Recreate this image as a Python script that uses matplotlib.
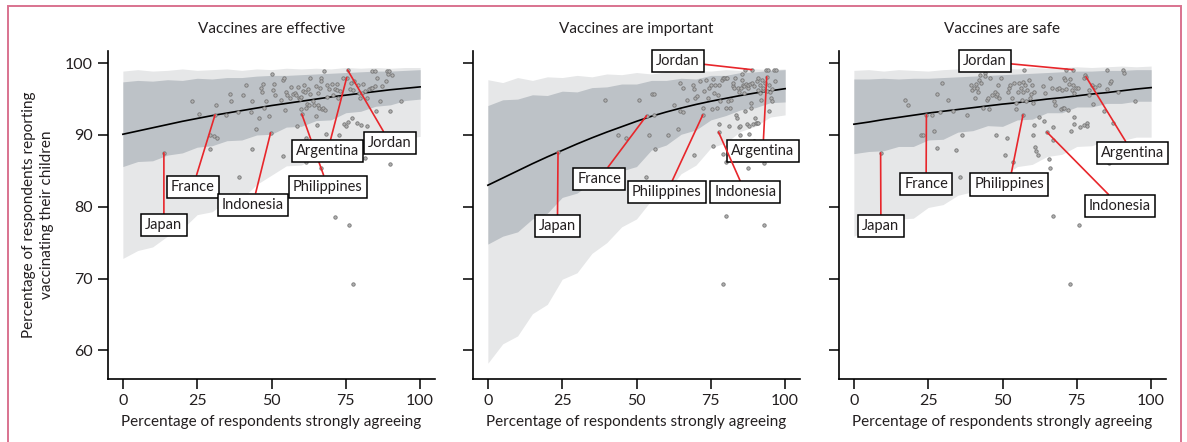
import numpy as np
import matplotlib
matplotlib.use("Agg")
import matplotlib.pyplot as plt
from matplotlib.patches import Rectangle

plt.rcParams["font.family"] = ["Lato", "DejaVu Sans"]

# ---- data -------------------------------------------------------------
TITLES = ["Vaccines are effective", "Vaccines are important", "Vaccines are safe"]

BAND_X = list(range(0, 101, 5))

# panel 1: effective
EFF_LIGHT_HI = [98.9, 99.1, 98.9, 99.0, 99.2, 99.0, 99.1, 99.2, 99.0, 99.2, 99.1,
                99.3, 99.2, 99.3, 99.2, 99.4, 99.3, 99.4, 99.3, 99.4, 99.4]
EFF_DARK_HI = [97.4, 97.6, 97.5, 97.7, 97.6, 97.9, 97.8, 98.0, 98.0, 98.2, 98.3,
               98.3, 98.4, 98.5, 98.6, 98.7, 98.8, 98.9, 98.9, 99.0, 99.1]
EFF_DARK_LO = [85.6, 86.3, 86.4, 87.2, 87.5, 88.3, 88.5, 89.2, 89.3, 90.0, 90.1,
               91.1, 91.2, 92.0, 92.1, 93.1, 93.3, 94.0, 94.2, 94.8, 95.0]
EFF_LIGHT_LO = [72.8, 73.9, 74.4, 75.9, 76.9, 78.9, 79.3, 80.8, 81.1, 83.1, 84.4,
                85.7, 85.8, 87.0, 87.1, 87.9, 88.0, 88.8, 88.9, 89.5, 89.8]
EFF_CURVE = [90.1, 90.55, 91.0, 91.45, 91.9, 92.3, 92.7, 93.05, 93.4, 93.75, 94.1,
             94.4, 94.7, 95.0, 95.3, 95.55, 95.8, 96.05, 96.3, 96.5, 96.7]
EFF_PTS = [
    (23.3, 94.8), (25.6, 92.9), (31.4, 94.2), (31.0, 92.8), (34.8, 92.8), (36.0, 95.65),
    (36.25, 94.8), (38.8, 93.2), (40.5, 95.6), (41.3, 96.9), (43.1, 93.2), (43.3, 94.7),
    (44.7, 90.8), (45.8, 92.4), (46.35, 96.5), (46.7, 96.0), (47.0, 97.1), (47.6, 93.75),
    (48.1, 94.7), (49.2, 92.7), (50.05, 98.5), (50.4, 96.2), (50.7, 97.1), (51.2, 95.6),
    (53.3, 94.9), (53.8, 97.6), (54.2, 97.9), (54.5, 93.5), (54.8, 96.0), (55.3, 95.5),
    (56.3, 95.1), (56.7, 96.7), (57.35, 95.7), (57.8, 95.9), (58.4, 95.5), (58.6, 91.3),
    (58.9, 96.7), (59.3, 95.2), (59.6, 95.05), (59.8, 93.6), (60.05, 95.3), (60.6, 96.1),
    (60.9, 96.9), (61.3, 96.0), (61.6, 93.8), (62.1, 94.3), (62.3, 96.4), (62.6, 94.2),
    (63.0, 98.0), (63.1, 95.75), (63.9, 94.8), (64.3, 94.2), (64.9, 96.8), (65.0, 92.7),
    (65.2, 91.4), (65.5, 95.8), (65.8, 94.2), (66.1, 93.7), (66.3, 96.5), (66.7, 97.9),
    (66.8, 97.5), (67.0, 93.65), (67.45, 93.75), (67.7, 98.95), (67.9, 93.5), (68.6, 95.3),
    (68.8, 96.9), (69.4, 96.4), (70.5, 97.1), (70.7, 95.5), (71.2, 96.4), (71.95, 97.1),
    (72.2, 96.3), (72.4, 95.1), (73.1, 96.1), (74.2, 97.9), (74.5, 91.5), (75.3, 98.0),
    (75.2, 91.2), (75.6, 99.05), (75.9, 91.75), (76.3, 96.4), (76.9, 97.2), (77.1, 92.3),
    (77.3, 96.3), (77.9, 97.5), (78.7, 91.7), (79.2, 97.0), (79.6, 95.9), (79.8, 95.1),
    (80.2, 91.4), (80.5, 95.9), (80.8, 97.1), (81.3, 96.1), (81.6, 86.8), (82.0, 91.2),
    (82.15, 95.2), (82.7, 96.4), (83.4, 96.6), (83.7, 98.95), (83.95, 96.5), (84.7, 96.8),
    (84.95, 98.95), (85.4, 97.9), (86.5, 94.7), (87.1, 96.8), (88.6, 97.5), (88.9, 98.95),
    (89.1, 98.5), (89.6, 98.95), (89.8, 93.4), (89.8, 85.9), (90.5, 98.3), (93.7, 94.7),
    (60.2, 92.9), (49.7, 90.3), (13.8, 87.5), (29.2, 90.0), (30.7, 89.8), (31.5, 89.6),
    (29.2, 88.1), (43.3, 88.0), (39.2, 84.2), (54.0, 87.1), (61.7, 86.2), (66.7, 85.4),
    (61.7, 89.6), (72.6, 90.0), (68.2, 90.1), (85.0, 93.3), (71.2, 78.6), (76.0, 77.5),
    (77.4, 69.2),
]
EFF_LABELS = {"Japan": (13.8, 87.5), "France": (31.0, 92.8), "Indonesia": (49.7, 90.3),
              "Philippines": (60.2, 92.9), "Argentina": (75.3, 98.0), "Jordan": (75.6, 99.05)}

# panel 2: important
IMP_LIGHT_HI = [97.7, 97.3, 98.0, 97.6, 98.1, 98.0, 98.3, 98.1, 98.5, 98.4, 98.7,
                98.5, 98.8, 98.7, 99.0, 98.9, 99.1, 99.0, 99.2, 99.1, 99.2]
IMP_DARK_HI = [94.1, 94.9, 95.0, 95.6, 95.5, 96.1, 96.0, 96.6, 96.7, 97.1, 97.1,
               97.6, 97.6, 97.9, 97.8, 98.3, 98.3, 98.7, 98.8, 99.0, 99.1]
IMP_DARK_LO = [74.8, 75.9, 76.5, 78.3, 79.1, 81.3, 81.9, 83.4, 83.6, 85.0, 85.6,
               87.9, 88.6, 90.1, 90.7, 92.1, 92.7, 93.5, 93.8, 94.5, 94.6]
IMP_LIGHT_LO = [58.2, 60.9, 62.0, 65.1, 66.4, 69.9, 70.8, 73.5, 75.0, 77.2, 78.3,
                80.9, 82.0, 84.6, 85.8, 88.2, 88.9, 90.5, 91.2, 92.5, 92.8]
IMP_CURVE = [83.0, 84.0, 85.0, 86.0, 86.95, 87.85, 88.75, 89.6, 90.4, 91.15, 91.9,
             92.6, 93.2, 93.75, 94.25, 94.7, 95.1, 95.5, 95.85, 96.15, 96.45]
IMP_PTS = [
    (39.4, 94.9), (43.9, 90.0), (46.35, 89.6), (50.8, 94.9), (53.2, 84.1), (54.3, 90.0),
    (55.1, 95.7), (55.9, 95.7), (56.0, 92.8), (56.2, 88.0), (60.7, 90.0), (62.7, 94.2),
    (63.9, 90.9), (64.65, 93.3), (65.55, 93.2), (64.76, 97.2), (65.8, 96.5), (67.1, 94.9),
    (68.9, 97.0), (69.25, 87.15), (69.5, 96.4), (69.7, 95.2), (70.3, 95.4), (71.4, 97.5),
    (72.5, 93.8), (72.84, 96.1), (73.3, 97.6), (74.1, 95.2), (74.5, 96.6), (75.0, 96.9),
    (75.3, 93.65), (75.9, 97.8), (76.1, 95.8), (76.3, 96.9), (77.0, 93.75), (77.4, 95.6),
    (77.9, 96.9), (78.1, 94.7), (78.7, 97.7), (79.0, 97.9), (79.6, 98.0), (80.0, 93.75),
    (80.1, 98.0), (80.6, 98.0), (80.9, 94.7), (81.5, 93.75), (81.8, 94.9), (82.3, 96.8),
    (82.4, 97.3), (82.9, 96.6), (83.2, 97.9), (83.4, 92.8), (83.7, 92.3), (84.1, 96.5),
    (84.4, 96.0), (84.5, 91.05), (84.85, 91.2), (85.1, 96.5), (85.4, 97.7), (85.4, 98.5),
    (85.75, 97.0), (86.2, 96.8), (86.2, 95.8), (86.5, 93.4), (86.76, 97.1), (87.2, 91.5),
    (87.4, 96.5), (87.65, 97.0), (88.0, 91.3), (88.2, 97.1), (88.44, 94.4), (88.55, 93.75),
    (89.0, 97.2), (89.3, 91.5), (89.6, 96.8), (89.9, 92.35), (90.2, 91.65), (90.5, 91.65),
    (91.0, 91.65), (90.5, 97.5), (90.8, 98.0), (91.0, 96.3), (91.4, 97.0), (91.6, 95.8),
    (91.8, 94.9), (92.1, 97.6), (92.5, 96.3), (92.7, 96.5), (93.3, 97.2), (93.6, 99.1),
    (93.8, 96.1), (94.3, 99.1), (94.7, 97.0), (94.95, 96.0), (95.3, 95.1), (95.6, 96.4),
    (96.1, 99.1), (96.6, 97.5), (97.0, 99.1), (77.6, 91.5), (81.0, 91.3), (84.85, 90.0),
    (87.9, 90.1), (77.6, 90.4), (72.3, 92.8), (53.4, 92.7), (79.0, 87.3), (75.9, 88.4),
    (82.3, 87.2), (87.65, 87.0), (89.6, 89.2), (92.9, 86.1), (86.5, 99.0), (88.8, 99.1),
    (93.8, 98.1), (80.1, 86.2), (87.4, 85.4), (80.1, 78.7), (92.9, 77.5), (79.2, 69.25),
    (95.7, 94.7), (94.7, 93.4), (23.6, 87.6),
]
IMP_LABELS = {"Jordan": (88.8, 99.1), "Argentina": (93.8, 98.1), "France": (53.4, 92.7),
              "Japan": (23.6, 87.6), "Philippines": (72.3, 92.8), "Indonesia": (77.6, 90.4)}

# panel 3: safe
SAFE_LIGHT_HI = [99.0, 99.1, 98.9, 99.1, 99.0, 98.9, 99.1, 99.2, 99.1, 99.3, 99.3,
                 99.2, 99.4, 99.3, 99.4, 99.5, 99.4, 99.5, 99.6, 99.5, 99.6]
SAFE_DARK_HI = [97.8, 97.8, 97.9, 97.8, 97.9, 97.9, 98.0, 98.1, 98.2, 98.3, 98.4,
                98.5, 98.6, 98.7, 98.8, 98.9, 98.9, 99.0, 99.0, 99.1, 99.1]
SAFE_DARK_LO = [87.4, 87.7, 87.8, 88.4, 88.4, 89.3, 89.4, 90.4, 90.6, 91.3, 91.2,
                92.1, 92.2, 93.1, 93.1, 93.9, 93.9, 94.4, 94.4, 94.7, 94.7]
SAFE_LIGHT_LO = [75.9, 76.9, 77.0, 78.3, 78.4, 79.9, 80.3, 81.6, 82.1, 83.9, 84.2,
                 85.6, 85.9, 87.0, 87.3, 88.4, 88.5, 89.2, 89.2, 89.7, 89.7]
SAFE_CURVE = [91.5, 91.8, 92.15, 92.45, 92.75, 93.05, 93.3, 93.55, 93.8, 94.05, 94.3,
              94.5, 94.75, 95.0, 95.2, 95.45, 95.7, 95.9, 96.15, 96.4, 96.6]
SAFE_PTS = [
    (17.2, 94.9), (18.3, 94.2), (22.7, 90.0), (23.4, 90.0), (24.4, 92.8), (26.2, 92.8),
    (27.0, 90.6), (28.1, 95.7), (28.1, 88.2), (28.9, 93.2), (29.8, 97.2), (31.8, 94.9),
    (33.2, 93.3), (34.3, 87.9), (35.6, 84.1), (36.5, 90.0), (38.2, 92.8), (39.3, 97.0),
    (39.6, 96.2), (40.5, 96.6), (40.8, 95.1), (41.0, 97.1), (41.4, 96.5), (41.6, 96.0),
    (42.1, 97.7), (42.5, 98.3), (42.7, 97.2), (43.5, 93.75), (44.1, 98.6), (44.2, 98.2),
    (44.7, 94.9), (45.0, 95.1), (45.3, 93.65), (45.9, 97.9), (46.6, 95.6), (47.4, 96.0),
    (47.65, 90.0), (47.8, 95.4), (48.3, 95.7), (48.55, 96.9), (48.9, 95.2), (49.4, 97.9),
    (50.9, 87.2), (51.5, 89.6), (51.9, 96.0), (52.3, 96.5), (52.6, 96.9), (53.2, 95.2),
    (53.6, 86.3), (53.9, 97.2), (54.5, 94.4), (54.6, 93.65), (55.1, 96.0), (55.4, 97.2),
    (56.2, 96.5), (56.5, 94.9), (56.75, 96.0), (56.9, 92.8), (57.0, 97.4), (57.3, 99.1),
    (57.5, 97.0), (58.0, 94.7), (58.4, 96.3), (59.0, 97.6), (59.3, 95.1), (59.6, 95.7),
    (59.8, 96.9), (60.1, 94.4), (60.5, 96.0), (60.1, 90.0), (60.7, 91.4), (60.9, 88.3),
    (61.4, 87.7), (61.8, 87.2), (62.4, 92.45), (63.5, 96.8), (63.8, 91.9), (64.4, 95.8),
    (64.95, 90.4), (65.7, 86.7), (65.85, 85.4), (66.1, 98.0), (66.5, 96.6), (66.9, 91.05),
    (66.9, 89.3), (67.4, 94.7), (67.8, 94.2), (68.3, 96.4), (69.1, 96.5), (69.7, 93.65),
    (70.0, 96.3), (70.2, 93.75), (70.6, 93.75), (70.8, 97.9), (71.0, 97.7), (71.4, 99.1),
    (71.5, 96.4), (71.9, 93.5), (72.4, 97.1), (72.8, 97.8), (73.0, 90.5), (73.4, 96.3),
    (73.6, 97.0), (73.7, 99.1), (73.9, 92.45), (74.1, 95.8), (74.2, 91.5), (74.7, 96.6),
    (75.3, 96.5), (76.2, 91.05), (77.3, 97.9), (77.4, 91.4), (77.9, 98.3), (78.1, 98.1),
    (78.3, 91.65), (78.55, 91.2), (79.0, 95.5), (79.2, 96.2), (80.0, 96.9), (80.5, 94.3),
    (81.2, 96.7), (82.6, 96.9), (84.1, 93.4), (85.0, 96.4), (85.2, 99.1), (85.9, 86.1),
    (86.1, 97.2), (86.5, 97.5), (87.2, 91.65), (88.8, 96.0), (90.7, 99.1), (90.9, 98.6),
    (9.0, 87.5), (66.9, 78.7), (75.6, 77.5), (72.8, 69.25), (94.7, 94.7),
]
SAFE_LABELS = {"Jordan": (73.7, 99.1), "Argentina": (78.1, 98.1), "Japan": (9.0, 87.5),
               "France": (24.4, 92.8), "Philippines": (56.9, 92.8), "Indonesia": (64.95, 90.4)}

# ---- layout (label box centres, in drawing order) -----------------------
BOXES = [
    [("Japan", 13.8, 77.4), ("France", 23.6, 82.8), ("Indonesia", 43.7, 80.3),
     ("Philippines", 68.9, 82.8), ("Argentina", 68.9, 87.8), ("Jordan", 89.9, 88.9)],
    [("Jordan", 64.0, 100.25), ("Argentina", 92.5, 87.8), ("France", 37.5, 83.9),
     ("Japan", 23.4, 77.3), ("Philippines", 60.2, 82.0), ("Indonesia", 86.6, 82.0)],
    [("Jordan", 44.05, 100.25), ("Argentina", 93.8, 87.5), ("Japan", 9.1, 77.3),
     ("France", 24.3, 83.2), ("Philippines", 52.2, 83.1), ("Indonesia", 89.5, 80.1)],
]

PANELS = [
    (EFF_LIGHT_LO, EFF_LIGHT_HI, EFF_DARK_LO, EFF_DARK_HI, EFF_CURVE, EFF_PTS, EFF_LABELS),
    (IMP_LIGHT_LO, IMP_LIGHT_HI, IMP_DARK_LO, IMP_DARK_HI, IMP_CURVE, IMP_PTS, IMP_LABELS),
    (SAFE_LIGHT_LO, SAFE_LIGHT_HI, SAFE_DARK_LO, SAFE_DARK_HI, SAFE_CURVE, SAFE_PTS, SAFE_LABELS),
]

LIGHT = "#e6e7e8"
DARK = "#bdc2c7"
RED = "#e8262b"
INK = "#231f20"

W, H = 1187, 442
fig = plt.figure(figsize=(W / 100, H / 100), dpi=100)

# pink frame round the figure
fig.patches.append(Rectangle((8 / W, -0.05), (1181 - 8) / W, 1.05 - 6 / H,
                             transform=fig.transFigure, fill=False,
                             edgecolor="#d9728f", linewidth=1.4))

lefts = [108, 473, 839]
for i, (left, panel) in enumerate(zip(lefts, PANELS)):
    light_lo, light_hi, dark_lo, dark_hi, curve, pts, labels = panel
    ax = fig.add_axes([left / W, (H - 379) / H, 327 / W, (379 - 51) / H])

    ax.fill_between(BAND_X, light_lo, light_hi, color=LIGHT, lw=0, zorder=1)
    ax.fill_between(BAND_X, dark_lo, dark_hi, color=DARK, lw=0, zorder=1.5)
    ax.plot(BAND_X, curve, color="black", lw=1.2, zorder=2.5)

    pts = np.array(pts)
    ax.scatter(pts[:, 0], pts[:, 1], s=6, color="#b0b0b0", edgecolor="#767676",
               linewidth=0.6, zorder=3)

    for k, (name, bx, by) in enumerate(BOXES[i]):
        ax.annotate(name, xy=labels[name], xytext=(bx, by), textcoords="data",
                    ha="center", va="center", fontsize=10.5, color=INK,
                    zorder=5 + k,
                    bbox=dict(boxstyle="square,pad=0.28", fc="white", ec="black", lw=1.1),
                    arrowprops=dict(arrowstyle="-", color=RED, lw=1.2,
                                    shrinkA=0, shrinkB=0))

    ax.set_xlim(-5, 105)
    ax.set_ylim(56, 101.7)
    ax.set_xticks([0, 25, 50, 75, 100])
    ax.set_yticks([60, 70, 80, 90, 100])
    for side in ("top", "right"):
        ax.spines[side].set_visible(False)
    for side in ("left", "bottom"):
        ax.spines[side].set_linewidth(1.2)
    ax.tick_params(direction="out", length=7, width=1.1, labelsize=11.5,
                   labelcolor=INK, pad=4)
    if i > 0:
        ax.tick_params(axis="y", labelleft=False)
    else:
        ax.set_ylabel("Percentage of respondents reporting\nvaccinating their children",
                      fontsize=11, color=INK, labelpad=8, linespacing=1.35)
    ax.set_xlabel("Percentage of respondents strongly agreeing", fontsize=11,
                  color=INK, labelpad=5)
    ax.set_title(TITLES[i], fontsize=11, color=INK, pad=13)

fig.savefig("out.png", dpi=100)
